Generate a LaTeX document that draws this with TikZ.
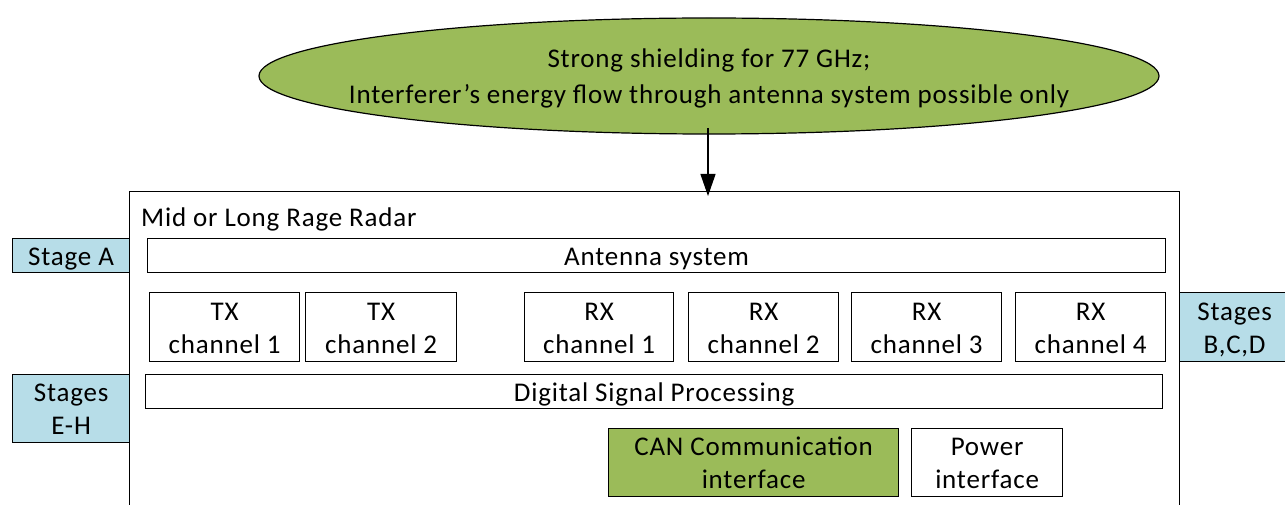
\documentclass[tikz,border=0pt]{standalone}
\usepackage{fontspec}
\setmainfont[LetterSpace=3]{Carlito}
\usetikzlibrary{arrows.meta,shapes.geometric}
\definecolor{olivefill}{RGB}{155,187,89}
\definecolor{stageblue}{RGB}{183,221,232}
\newcommand{\lowtxt}[1]{\raisebox{-3pt}[\height][\depth]{\begin{tabular}{@{}c@{}}#1\end{tabular}}}
\tikzset{
  box/.style={draw=black, line width=1.2pt, fill=white, rectangle, inner sep=0pt, anchor=north west},
  stagebox/.style={box, fill=stageblue},
  txt/.style={font=\fontsize{27}{33}\selectfont},
}
\begin{document}
\begin{tikzpicture}[x=1pt,y=-1pt, txt]
\useasboundingbox (0,0) rectangle (1285,505);
% ellipse
\node[ellipse, draw=black, line width=1.2pt, fill=olivefill, minimum width=900pt, minimum height=116pt, inner sep=0pt] (ell) at (709,76) {};
\node[inner sep=0pt, align=center, font=\fontsize{27}{36}\selectfont, yshift=-2pt] (elltxt) at (ell.center) {Strong shielding for 77 GHz;\\Interferer’s energy flow through antenna system possible only};
% main box
\node[box, minimum width=1050pt, minimum height=317pt] (main) at (129,191) {};
\node[anchor=base west, inner sep=0pt] (title) at (141,226) {Mid or Long Rage Radar};
% stages
\node[stagebox, minimum width=117pt, minimum height=34pt] (sa) at (12,238) {\lowtxt{Stage A}};
\node[stagebox, minimum width=117pt, minimum height=68pt] (seh) at (12,374) {\lowtxt{Stages\\E-H}};
\node[stagebox, minimum width=110pt, minimum height=69pt] (sbcd) at (1179,292) {\lowtxt{Stages\\B,C,D}};
% inner blocks
\node[box, minimum width=1018pt, minimum height=34pt] (ant) at (147,238) {\lowtxt{Antenna system}};
\node[box, minimum width=150pt, minimum height=69pt] (tx1) at (149,292) {\lowtxt{TX\\channel 1}};
\node[box, minimum width=151pt, minimum height=69pt] (tx2) at (305,292) {\lowtxt{TX\\channel 2}};
\node[box, minimum width=149pt, minimum height=69pt] (rx1) at (524,292) {\lowtxt{RX\\channel 1}};
\node[box, minimum width=150pt, minimum height=69pt] (rx2) at (688,292) {\lowtxt{RX\\channel 2}};
\node[box, minimum width=150pt, minimum height=69pt] (rx3) at (851,292) {\lowtxt{RX\\channel 3}};
\node[box, minimum width=150pt, minimum height=69pt] (rx4) at (1015,292) {\lowtxt{RX\\channel 4}};
\node[box, minimum width=1017pt, minimum height=34pt] (dsp) at (145,374) {\lowtxt{Digital Signal Processing}};
\node[box, fill=olivefill, minimum width=290pt, minimum height=68pt] (can) at (608,428) {\lowtxt{CAN Communication\\interface}};
\node[box, minimum width=151pt, minimum height=68pt] (pow) at (911,428) {\lowtxt{Power\\interface}};
% arrow
\coordinate (src) at (708,128);
\draw[line width=1.2pt, -{Triangle[length=22pt,width=15pt]}, shorten >=-5pt] (src) -- (main.north -| src);
\end{tikzpicture}
\end{document}
